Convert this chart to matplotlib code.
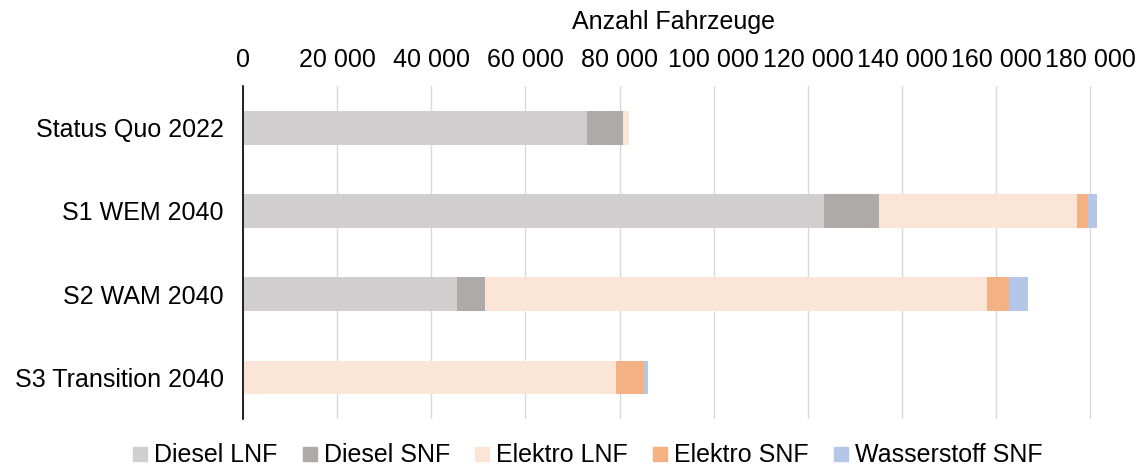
import matplotlib
matplotlib.use("Agg")
import matplotlib.pyplot as plt
from matplotlib.lines import Line2D
from matplotlib.ticker import FuncFormatter
import numpy as np

plt.rcParams['font.family'] = ['Liberation Sans', 'DejaVu Sans']

categories = ["Status Quo 2022", "S1 WEM 2040", "S2 WAM 2040", "S3 Transition 2040"]
series_names = ["Diesel LNF", "Diesel SNF", "Elektro LNF", "Elektro SNF", "Wasserstoff SNF"]
diesel_lnf = [73000, 123400, 45400, 0]
diesel_snf = [7700, 11600, 6000, 0]
elektro_lnf = [1300, 42200, 106700, 79200]
elektro_snf = [0, 2300, 4600, 5900]
wasserstoff_snf = [0, 2000, 4000, 1000]
colors = ["#D0CECE", "#AEAAAA", "#FBE5D6", "#F4B183", "#B4C7E7"]
xticks = list(range(0, 180001, 20000))

series = [diesel_lnf, diesel_snf, elektro_lnf, elektro_snf, wasserstoff_snf]

fig = plt.figure(figsize=(11.41, 4.72), dpi=100)
ax = fig.add_axes([0.213, 0.113, 0.755, 0.704])

y = np.arange(len(categories))
left = np.zeros(len(categories))
for vals, c, name in zip(series, colors, series_names):
    ax.barh(y, vals, left=left, height=0.4, color=c, label=name, zorder=3)
    left += np.array(vals)

ax.set_ylim(len(categories) - 0.5, -0.5)
ax.set_yticks(y)
ax.set_yticklabels(categories, fontsize=18)
ax.set_xlim(0, 183000)
ax.set_xticks(xticks)
ax.xaxis.set_major_formatter(FuncFormatter(lambda v, p: f"{int(v):,}".replace(",", " ")))
ax.xaxis.tick_top()
ax.xaxis.set_label_position("top")
ax.tick_params(axis='x', labelsize=18, length=0, pad=10)
ax.tick_params(axis='y', length=0, pad=14)
ax.set_xlabel("Anzahl Fahrzeuge", fontsize=18, labelpad=14)
ax.grid(axis='x', color='#D9D9D9', linewidth=1, zorder=0)
for s in ['top', 'right', 'bottom']:
    ax.spines[s].set_visible(False)
ax.spines['left'].set_color('black')
ax.spines['left'].set_linewidth(1.2)
ax.spines['left'].set_zorder(4)

handles = [Line2D([0], [0], marker='s', linestyle='none', markersize=10,
                  markerfacecolor=c, markeredgecolor=c) for c in colors]
fig.legend(handles, series_names, loc='center', bbox_to_anchor=(0.515, 0.035),
           ncol=5, frameon=False, fontsize=18, handlelength=0.6,
           handletextpad=0.25, columnspacing=1.0, borderaxespad=0)

fig.savefig("out.png", dpi=100)
